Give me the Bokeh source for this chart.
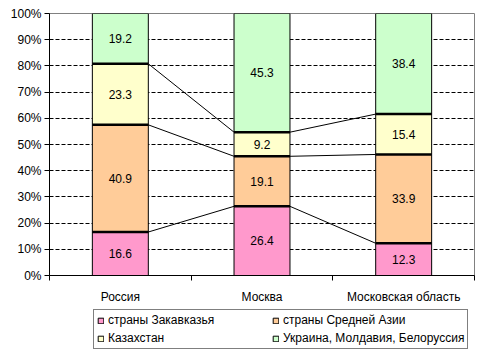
from bokeh.plotting import figure
from bokeh.layouts import column
from bokeh.models import ColumnDataSource, FixedTicker, Legend, LegendItem, Range1d
from bokeh.core.properties import value
from bokeh.embed import file_html
from bokeh.resources import INLINE

regions = ["Россия", "Москва", "Московская область"]
series_names = ["страны Закавказья", "страны Средней Азии", "Казахстан",
                "Украина, Молдавия, Белоруссия"]
zakavkazye = [16.6, 26.4, 12.3]
sred_azia = [40.9, 19.1, 33.9]
kazakhstan = [23.3, 9.2, 15.4]
ukraina = [19.2, 45.3, 38.4]
colors = ["#FF99CC", "#FFCC99", "#FFFFCC", "#CCFFCC"]
y_ticks = [0, 10, 20, 30, 40, 50, 60, 70, 80, 90, 100]

FONT = "Liberation Sans"
FS = "12px"
series = [zakavkazye, sred_azia, kazakhstan, ukraina]
xs = list(range(len(regions)))
bw = 0.395

p = figure(width=480, height=308, output_backend="svg", toolbar_location=None,
           x_range=Range1d(-0.5, len(regions) - 0.5), y_range=Range1d(0, 100),
           min_border_left=49, min_border_right=6, min_border_top=13, min_border_bottom=33)
p.outline_line_color = "#808080"
p.outline_line_width = 1
p.background_fill_color = "white"
p.border_fill_color = "white"

# grid
p.xgrid.visible = False
p.ygrid.ticker = FixedTicker(ticks=y_ticks[1:-1])
p.ygrid.grid_line_color = "black"
p.ygrid.grid_line_dash = "4 2"
p.ygrid.grid_line_width = 1

# axes
p.yaxis.ticker = FixedTicker(ticks=y_ticks)
p.yaxis.major_label_overrides = {t: f"{t}%" for t in y_ticks}
p.yaxis.major_tick_out = 5
p.yaxis.major_tick_in = 0
p.yaxis.minor_tick_out = 0
p.yaxis.minor_tick_in = 0
p.yaxis.axis_line_color = "black"
p.yaxis.major_tick_line_color = "black"
p.yaxis.major_label_standoff = 3

p.xaxis.ticker = FixedTicker(ticks=xs, minor_ticks=[x - 0.5 for x in xs] + [xs[-1] + 0.5])
p.xaxis.major_label_overrides = {i: r for i, r in enumerate(regions)}
p.xaxis.major_tick_out = 0
p.xaxis.major_tick_in = 0
p.xaxis.minor_tick_out = 5
p.xaxis.minor_tick_in = 0
p.xaxis.minor_tick_line_color = "black"
p.xaxis.axis_line_color = "black"
p.xaxis.major_label_standoff = 9

for ax in (p.xaxis[0], p.yaxis[0]):
    ax.major_label_text_font = FONT
    ax.major_label_text_font_size = FS
    ax.major_label_text_color = "black"

renderers = []
bottoms = [0.0] * len(regions)
label_x, label_y, label_t = [], [], []
for vals, col in zip(series, colors):
    tops = [b + v for b, v in zip(bottoms, vals)]
    src = ColumnDataSource(dict(x=xs, bottom=bottoms, top=tops))
    r = p.vbar(x="x", bottom="bottom", top="top", width=bw, source=src,
               fill_color=col, line_color="black", line_width=1)
    renderers.append(r)
    for x, b, t, v in zip(xs, bottoms, tops, vals):
        label_x.append(x)
        label_y.append((b + t) / 2)
        label_t.append(f"{v:.1f}")
    bottoms = tops

# boundaries and series lines
cum = [0.0] * len(regions)
bx0, bx1, by = [], [], []
sx0, sx1, sy0, sy1 = [], [], [], []
for vals in series[:-1]:
    cum = [c + v for c, v in zip(cum, vals)]
    for x, c in zip(xs, cum):
        bx0.append(x - bw / 2)
        bx1.append(x + bw / 2)
        by.append(c)
    for i in range(len(xs) - 1):
        sx0.append(xs[i] + bw / 2)
        sx1.append(xs[i + 1] - bw / 2)
        sy0.append(cum[i])
        sy1.append(cum[i + 1])
p.segment(x0=sx0, y0=sy0, x1=sx1, y1=sy1, line_color="black", line_width=1)
p.segment(x0=bx0, y0=by, x1=bx1, y1=by, line_color="black", line_width=2.5)

p.text(x=label_x, y=label_y, text=label_t, text_font=value(FONT), text_font_size=FS,
       text_align="center", text_baseline="middle", text_color="black")

# legend panel (separate strip below the chart)
p2 = figure(width=480, height=45, output_backend="svg", toolbar_location=None,
            x_range=Range1d(0, 1), y_range=Range1d(0, 1),
            x_axis_type=None, y_axis_type=None,
            min_border_left=49, min_border_right=6, min_border_top=0, min_border_bottom=0)
p2.grid.visible = False
p2.outline_line_color = None
p2.border_fill_color = "white"
p2.background_fill_color = "white"
legend_renderers = []
for col in colors:
    legend_renderers.append(p2.vbar(x=[-5], bottom=[-5], top=[-4], width=0.1, fill_color=col,
                                    line_color="black", line_width=1))

legend = Legend(items=[LegendItem(label=n, renderers=[r])
                       for n, r in zip(series_names, legend_renderers)],
                location=(44, 4), orientation="horizontal")
legend.ncols = 2
legend.label_text_font = FONT
legend.label_text_font_size = FS
legend.label_text_color = "black"
legend.glyph_width = 7
legend.glyph_height = 7
legend.label_standoff = 4
legend.label_width = 160
legend.label_height = 13
legend.spacing = 4
legend.padding = 3
legend.margin = 0
legend.border_line_color = "black"
legend.border_line_width = 1
legend.background_fill_color = "white"
legend.background_fill_alpha = 1
p2.add_layout(legend, "center")

layout = column(p, p2, spacing=0)
open("out.html", "w").write(file_html(layout, INLINE))
